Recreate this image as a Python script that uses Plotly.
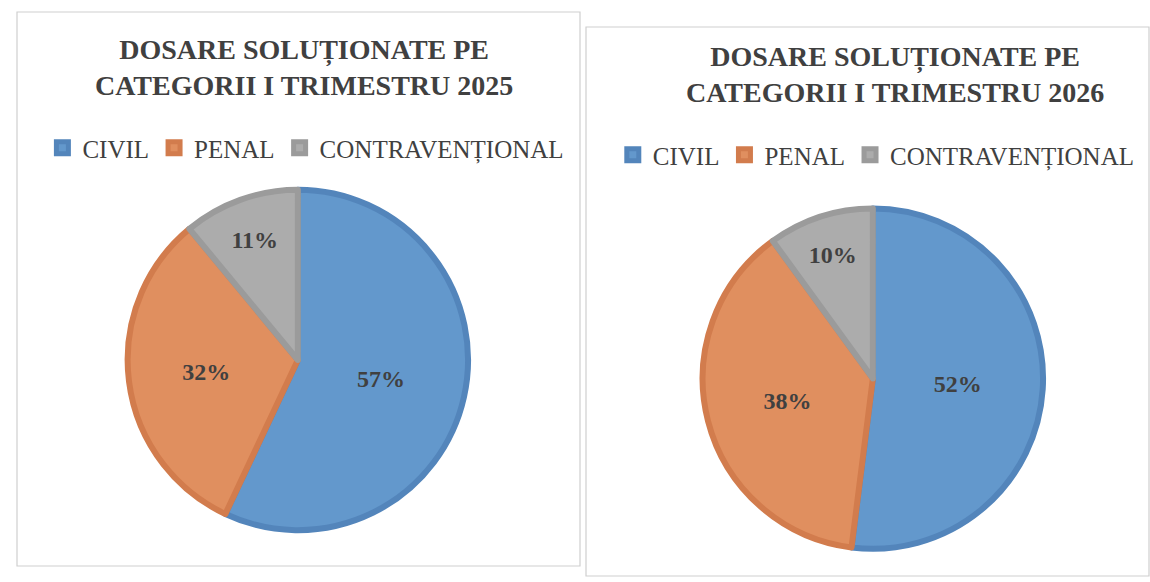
import plotly.graph_objects as go

categories = ["CIVIL", "PENAL", "CONTRAVENȚIONAL"]
share_2025 = [57, 32, 11]
share_2026 = [52, 38, 10]
titles = [
    "DOSARE SOLUȚIONATE PE<br>CATEGORII I TRIMESTRU 2025",
    "DOSARE SOLUȚIONATE PE<br>CATEGORII I TRIMESTRU 2026",
]

FILL = ["#6398cc", "#e08f5f", "#acacac"]
EDGE = ["#5385bb", "#d27c4d", "#9b9b9b"]
TEXT = "#404040"
SERIF = "Liberation Serif, Times New Roman, serif"

fig = go.Figure()

pie_style = dict(
    sort=False,
    direction="clockwise",
    rotation=0,
    texttemplate="%{percent:.0%}",
    textposition="inside",
    insidetextorientation="horizontal",
    textfont=dict(family=SERIF, size=24, color=TEXT, weight="bold"),
    marker=dict(colors=FILL, line=dict(color=EDGE, width=6)),
    hovertemplate="%{label}: %{percent:.0%}<extra></extra>",
)

fig.add_trace(
    go.Pie(
        labels=categories,
        values=share_2025,
        domain=dict(x=[0.111, 0.407], y=[0.089, 0.674]),
        legend="legend",
        **pie_style,
    )
)
# pie legends merge entries with the same label, so the second chart gets
# labels with a zero-width space appended to keep its own legend
fig.add_trace(
    go.Pie(
        labels=[c + "\u200b" for c in categories],
        values=share_2026,
        domain=dict(x=[0.611, 0.907], y=[0.055, 0.644]),
        legend="legend2",
        **pie_style,
    )
)

legend_style = dict(
    orientation="h",
    font=dict(family=SERIF, size=25, color=TEXT),
    bgcolor="rgba(0,0,0,0)",
    itemclick=False,
    itemdoubleclick=False,
    yanchor="middle",
    xanchor="center",
)

title_font = dict(family=SERIF, size=28, color=TEXT, weight="bold")

fig.update_layout(
    width=1150,
    height=582,
    margin=dict(l=0, r=0, t=0, b=0),
    paper_bgcolor="white",
    plot_bgcolor="white",
    showlegend=True,
    legend=dict(x=0.266, y=1 - 148 / 582, **legend_style),
    legend2=dict(x=0.762, y=1 - 155 / 582, **legend_style),
    annotations=[
        dict(text=titles[0], x=0.264, y=1 - 67 / 582, xref="paper", yref="paper",
             xanchor="center", yanchor="middle", showarrow=False, font=title_font),
        dict(text=titles[1], x=0.778, y=1 - 75 / 582, xref="paper", yref="paper",
             xanchor="center", yanchor="middle", showarrow=False, font=title_font),
    ],
    shapes=[
        dict(type="rect", xref="paper", yref="paper",
             x0=17 / 1150, x1=580 / 1150, y0=1 - 566 / 582, y1=1 - 12 / 582,
             line=dict(color="#cfcfcf", width=1.2)),
        dict(type="rect", xref="paper", yref="paper",
             x0=586 / 1150, x1=1149 / 1150, y0=1 - 576 / 582, y1=1 - 27 / 582,
             line=dict(color="#cfcfcf", width=1.2)),
    ],
)

fig.write_html(
    "out.html",
    config={"displayModeBar": False},
    post_script="document.body.style.margin='0';",
)
